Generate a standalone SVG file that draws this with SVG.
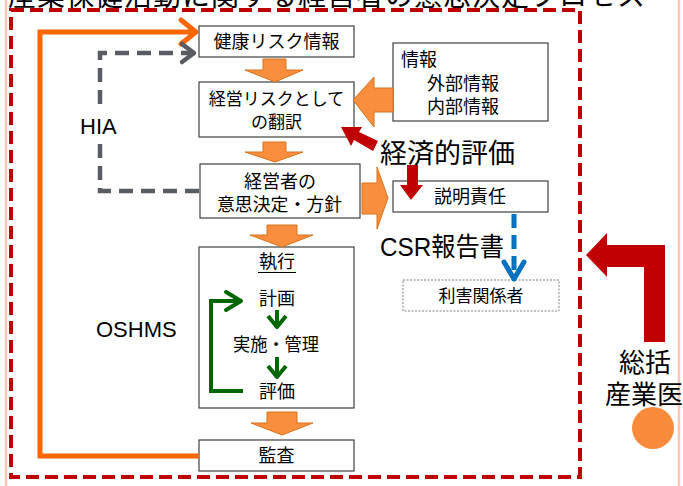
<svg xmlns="http://www.w3.org/2000/svg" width="683" height="486" viewBox="0 0 683 486">
<defs>
<style>
.box{fill:#fff;stroke:#404040;stroke-width:1.2}
.t{font-family:"Noto Sans CJK JP","Noto Sans",sans-serif;fill:#000}
.l{font-family:"Liberation Sans","Noto Sans",sans-serif;fill:#000}
.blk{fill:#F98E3F;stroke:#D9731E;stroke-width:1}
.red{fill:#C00000}
</style>
</defs>
<rect width="683" height="486" fill="#fff"/>
<line x1="6" y1="0" x2="6" y2="486" stroke="#F8C6B6" stroke-width="2.5"/>
<line x1="679" y1="0" x2="679" y2="486" stroke="#F8C6B6" stroke-width="2.5"/>
<text class="t" x="8" y="6" font-size="28" fill="#404040" letter-spacing="1">産業保健活動に関する経営者の意思決定プロセス</text>
<rect x="11" y="10" width="569" height="467" fill="none" stroke="#C00000" stroke-width="4" stroke-dasharray="13,6"/>

<g id="n-kenko">
<rect class="box" x="199" y="26" width="155" height="31"/>
<text class="t" x="276.5" y="48" font-size="18" text-anchor="middle">健康リスク情報</text>
</g>
<g id="n-honyaku">
<rect class="box" x="199" y="82" width="155" height="55"/>
<text class="t" x="276.5" y="105" font-size="17" text-anchor="middle">経営リスクとして</text>
<text class="t" x="276.5" y="128" font-size="17" text-anchor="middle">の翻訳</text>
</g>
<g id="n-ishikettei">
<rect class="box" x="200" y="164" width="160" height="54"/>
<text class="t" x="280" y="188" font-size="18" text-anchor="middle">経営者の</text>
<text class="t" x="217" y="211" font-size="18" textLength="125" lengthAdjust="spacingAndGlyphs">意思決定・方針</text>
</g>
<g id="n-shikko">
<rect class="box" x="199" y="247" width="155" height="161"/>
<text class="t" x="277" y="268" font-size="18" text-anchor="middle">執行</text>
<line x1="258" y1="272.5" x2="296" y2="272.5" stroke="#000" stroke-width="1.2"/>
<text class="t" x="277" y="305" font-size="18" text-anchor="middle">計画</text>
<text class="t" x="233" y="351" font-size="18" textLength="86" lengthAdjust="spacingAndGlyphs">実施・管理</text>
<text class="t" x="277" y="398" font-size="18" text-anchor="middle">評価</text>
</g>
<g id="n-kansa">
<rect class="box" x="199" y="440" width="155" height="31"/>
<text class="t" x="276.5" y="462" font-size="18" text-anchor="middle">監査</text>
</g>
<g id="n-joho">
<rect class="box" x="393" y="43" width="155" height="78"/>
<text class="t" x="401" y="66" font-size="18">情報</text>
<text class="t" x="427" y="90" font-size="18">外部情報</text>
<text class="t" x="427" y="113" font-size="18">内部情報</text>
</g>
<g id="n-setsumei">
<rect class="box" x="393" y="181" width="155" height="31"/>
<text class="t" x="470" y="203" font-size="18" text-anchor="middle">説明責任</text>
</g>
<g id="n-rigai">
<rect x="403" y="280" width="156" height="31" fill="#fff" stroke="#808080" stroke-width="1" stroke-dasharray="2,1.5"/>
<text class="t" x="481" y="302" font-size="17" text-anchor="middle">利害関係者</text>
</g>

<g id="connectors">
<polyline points="199,456 40,456 40,32 196,32" fill="none" stroke="#FF6600" stroke-width="5"/>
<polyline points="181,20 196,32 181,44" fill="none" stroke="#FF6600" stroke-width="5" stroke-linecap="round" stroke-linejoin="round"/>
<polyline points="199,191 100,191 100,143" fill="none" stroke="#595C63" stroke-width="4.5" stroke-dasharray="14,8"/>
<polyline points="100,104 100,53 192,53" fill="none" stroke="#595C63" stroke-width="4.5" stroke-dasharray="14,8"/>
<polyline points="182,44 194,53 182,62" fill="none" stroke="#595C63" stroke-width="4.5" stroke-linecap="round" stroke-linejoin="round"/>
<path class="blk" d="M263,59H286V70H303L275,82L245,70H263Z"/>
<path class="blk" d="M263,142H286V152H303L275,162L245,152H263Z"/>
<path class="blk" d="M267,225H297V235H313L282,247L250,235H267Z"/>
<path class="blk" d="M267,412H297V423H313L282,435L251,423H267Z"/>
<path class="blk" d="M393,88H374V77L353,100L374,127V112H393Z"/>
<path class="blk" d="M362,183H377V167L388,198L377,229V214H362Z"/>
<path class="red" d="M378,141L373,151L354,140L351,146L341,127L362,127L359,132Z"/>
<path class="red" d="M407,165H418V185H423L411,200L400,185H407Z"/>
<line x1="514" y1="214" x2="514" y2="278" stroke="#0070C0" stroke-width="5" stroke-dasharray="14,7"/>
<polyline points="504,262 514,279 524,262" fill="none" stroke="#0070C0" stroke-width="5" stroke-linecap="round" stroke-linejoin="round"/>
<path class="red" d="M586,255L607,233V245H665V342H644V267H607V277Z"/>
<line x1="277" y1="310" x2="277" y2="326" stroke="#006600" stroke-width="4"/>
<polyline points="268,316 277,327 286,316" fill="none" stroke="#006600" stroke-width="4" stroke-linejoin="round"/>
<line x1="277" y1="357" x2="277" y2="376" stroke="#006600" stroke-width="4"/>
<polyline points="268,366 277,377 286,366" fill="none" stroke="#006600" stroke-width="4" stroke-linejoin="round"/>
<polyline points="243,391 211,391 211,301 240,301" fill="none" stroke="#006600" stroke-width="4"/>
<polyline points="226,292 241,301 226,310" fill="none" stroke="#006600" stroke-width="4" stroke-linecap="round" stroke-linejoin="round"/>
</g>

<g id="labels">
<text class="l" x="80" y="134" font-size="22">HIA</text>
<text class="l" x="96" y="337" font-size="22">OSHMS</text>
<text class="t" x="380" y="163" font-size="27">経済的評価</text>
<text class="t" x="380" y="256" font-size="26" textLength="124" lengthAdjust="spacingAndGlyphs"><tspan font-family="Liberation Sans, sans-serif">CSR</tspan>報告書</text>
<text class="t" x="645" y="372" font-size="26" text-anchor="middle">総括</text>
<text class="t" x="605" y="404" font-size="26">産業医</text>
</g>
<g id="n-circle">
<circle cx="653" cy="428" r="21" fill="#FA8A3C"/>
</g>
</svg>
